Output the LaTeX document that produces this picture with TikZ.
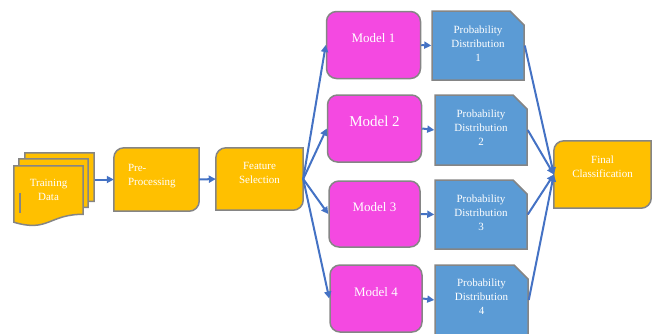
\documentclass[tikz,border=0pt]{standalone}
\usepackage{fontspec}
\setmainfont{Liberation Serif}
\usetikzlibrary{shapes.misc,arrows.meta,backgrounds}
\definecolor{orng}{HTML}{FFC000}
\definecolor{magnt}{HTML}{F449E1}
\definecolor{pblue}{HTML}{5B9BD5}
\definecolor{arrblue}{HTML}{4472C4}
\definecolor{rim}{HTML}{858585}

\begin{document}
\begin{tikzpicture}[x=1pt,y=-1pt,
      model/.style={rectangle, rounded corners=10pt, draw=rim, line width=1.5pt, fill=magnt, text=white, minimum width=94pt, minimum height=67pt, font=\fontsize{13}{15}\selectfont, text height=10pt, text depth=15pt},
      prob/.style={chamfered rectangle, chamfered rectangle corners=north east, chamfered rectangle xsep=7pt, chamfered rectangle ysep=7pt, draw=rim, line width=1.5pt, fill=pblue, text=white, minimum width=92pt, minimum height=69pt, align=center, font=\fontsize{11}{14}\selectfont, text height=36pt, text depth=5pt},
      orbox/.style={draw=rim, line width=1.5pt, fill=orng},
      otext/.style={text=white, font=\fontsize{11}{14}\selectfont, align=center, inner sep=0pt, text height=22pt},
      pfeil/.style={-{Triangle[length=7pt,width=7pt]}, draw=arrblue, line width=2pt}]

\useasboundingbox (0,0) rectangle (655,333);

\node[otext, minimum width=69pt, minimum height=60pt, text depth=12.8pt] (td) at (48.5,196) {Training\\Data};
\node[otext, minimum width=85pt, minimum height=63pt, text width=57pt, align=left, text height=8pt, text depth=24pt] (pre) at (156.5,179.5) {Pre-\\Processing};
\node[otext, minimum width=87pt, minimum height=62pt, text depth=12.8pt] (feat) at (259.5,179) {Feature\\Selection};
\node[model] (m1) at (373.5,45) {Model 1};
\node[model, font=\fontsize{15}{17}\selectfont] (m2) at (374.5,128.5) {Model 2};
\node[model, minimum width=91pt, minimum height=66pt] (m3) at (374.5,214) {Model 3};
\node[model, minimum width=92pt] (m4) at (376,298.5) {Model 4};
\node[prob, text depth=4pt] (p1) at (478,45.5) {Probability\\Distribution\\1};
\node[prob, minimum height=70pt, text depth=5pt] (p2) at (481,130) {Probability\\Distribution\\2};
\node[prob, text depth=4pt] (p3) at (481,214.5) {Probability\\Distribution\\3};
\node[prob, minimum width=93pt, minimum height=70pt, text depth=7pt] (p4) at (481.5,300) {Probability\\Distribution\\4};
\node[otext, minimum width=97pt, minimum height=67pt, text depth=15.8pt] (fin) at (602.5,174.5) {Final\\Classification};

% outlines of the orange boxes
\begin{pgfonlayer}{background}
  \foreach \dx/\dy in {11/13,5/7,0/0}
    \draw[orbox] ([shift={({\dx pt},{\dy pt})}]td.north west) -- ([shift={({\dx pt},{\dy pt})}]td.north east)
      -- ([shift={({\dx pt},{\dy pt+11.9pt})}]td.south east)
      .. controls ([shift={({\dx pt},{\dy pt+11.9pt})}]td.south) and ([shift={({\dx pt},{\dy pt-6.4pt})}]td.south)
      .. ([shift={({\dx pt},{\dy pt+4pt})}]td.south west) -- cycle;
  \foreach \n in {pre,feat,fin}
    \draw[orbox] ([yshift=-10pt]\n.north west) arc[start angle=180,end angle=90,radius=10pt] -- (\n.north east)
      -- ([yshift=10pt]\n.south east) arc[start angle=0,end angle=-90,radius=10pt] -- (\n.south west) -- cycle;
\end{pgfonlayer}
\draw[draw=rim, line width=1.5pt] ([shift={(6pt,3pt)}]td.west) -- ([shift={(6pt,-17pt)}]td.west);

\draw[pfeil] ([xshift=12pt]td.east |- pre.west) -- (pre.west);
\draw[pfeil] (pre.east) -- (feat.west);
\draw[pfeil] (feat.east) -- (m1.west);
\draw[pfeil] (feat.east) -- (m2.west);
\draw[pfeil] (feat.east) -- (m3.west);
\draw[pfeil] (feat.east) -- (m4.west);
\draw[pfeil] (m1.east) -- (p1.west);
\draw[pfeil] (m2.east) -- (p2.west);
\draw[pfeil] (m3.east) -- (p3.west);
\draw[pfeil] (m4.east) -- (p4.west);
\draw[pfeil] (p1.east) -- (fin.west);
\draw[pfeil] (p2.east) -- (fin.west);
\draw[pfeil] (p3.east) -- (fin.west);
\draw[pfeil] (p4.east) -- (fin.west);

\end{tikzpicture}
\end{document}
